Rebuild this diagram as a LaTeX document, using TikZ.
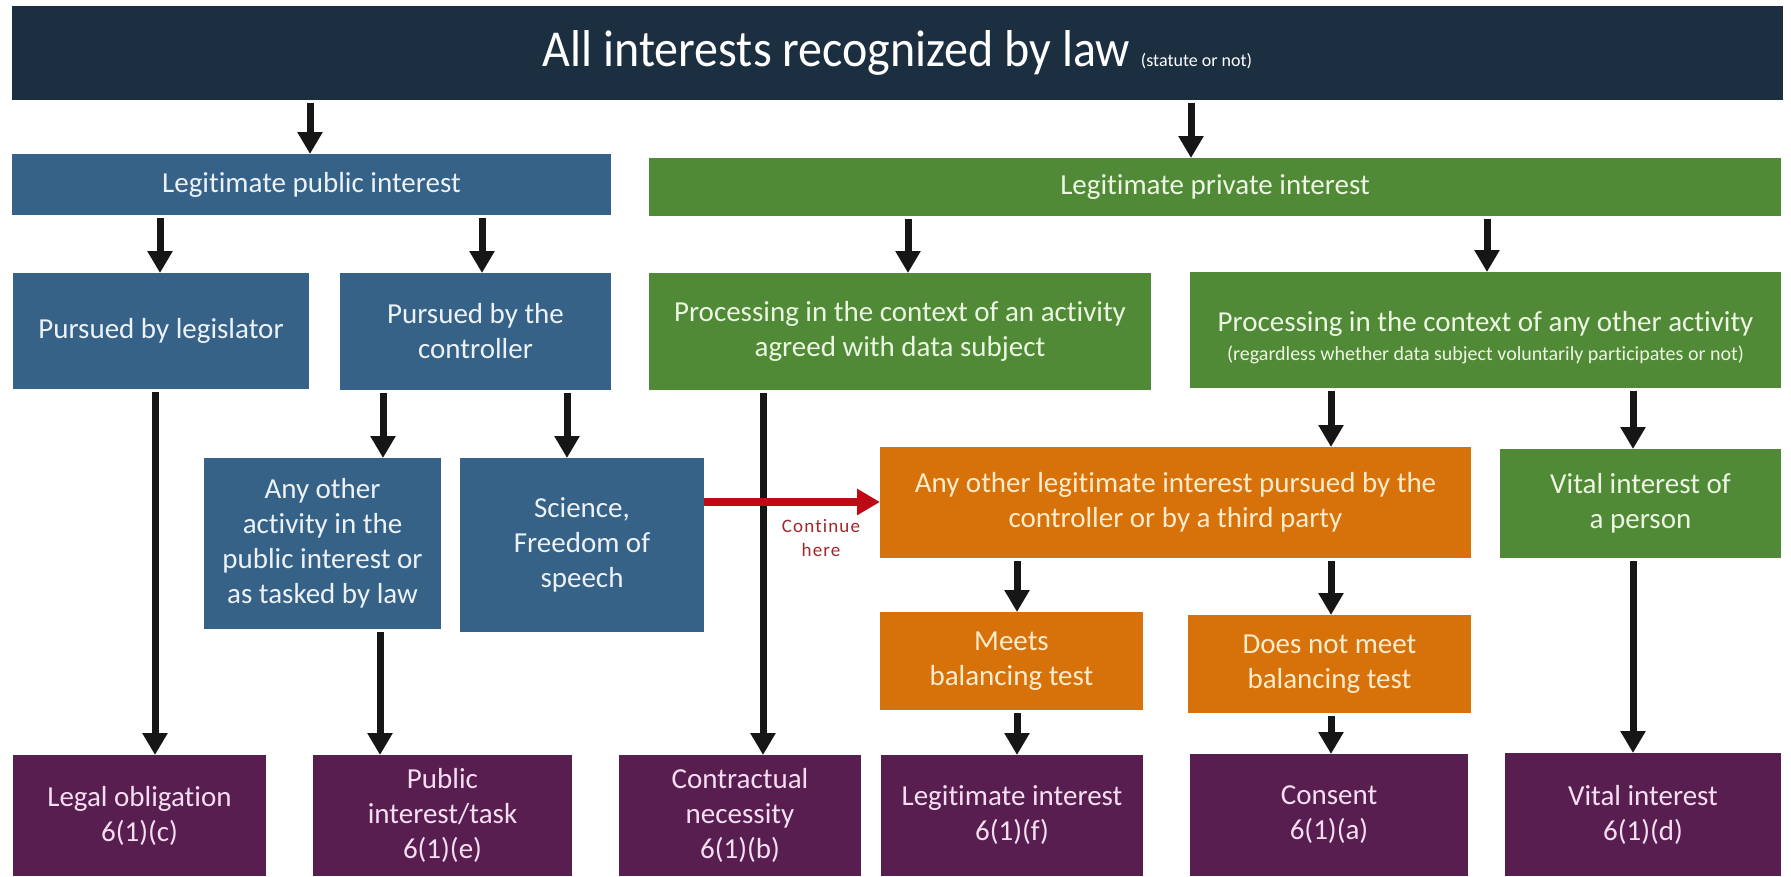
\documentclass[tikz,border=0pt]{standalone}
\usepackage{fontspec}
\setmainfont{Carlito}[Ligatures=CommonOff]
\newfontfamily\contfont{Carlito}[Ligatures=CommonOff,LetterSpace=6]
\usetikzlibrary{arrows.meta,calc}
\definecolor{cnavy}{RGB}{28,47,64}
\definecolor{cblue}{RGB}{53,98,134}
\definecolor{cgreen}{RGB}{80,138,55}
\definecolor{corange}{RGB}{215,113,10}
\definecolor{cpurple}{RGB}{88,30,80}
\definecolor{cred}{RGB}{190,10,20}
\definecolor{cdred}{RGB}{160,40,45}
\definecolor{tblue}{RGB}{236,242,248}
\definecolor{tgreen}{RGB}{236,246,226}
\definecolor{torange}{RGB}{255,236,204}
\definecolor{tpurple}{RGB}{246,222,242}
\definecolor{carrow}{RGB}{22,22,22}
\newcommand\mybox[7]{\node[box,#2,minimum width={(#5)-(#3)},minimum height={(#6)-(#4)}] (#1) at (#3,#4) {#7};}
\begin{document}
\begin{tikzpicture}[x=1pt,y=-1pt,
  box/.style={anchor=north west, inner sep=0pt, outer sep=0pt, align=center, font=\fontsize{29}{35}\selectfont},
  navybox/.style={fill=cnavy, text=white},
  bluebox/.style={fill=cblue, text=tblue},
  greenbox/.style={fill=cgreen, text=tgreen},
  orangebox/.style={fill=corange, text=torange},
  purplebox/.style={fill=cpurple, text=tpurple},
  arr/.style={draw=carrow, line width=7pt, -{Triangle[width=24pt,length=22pt]}, shorten <=3pt},
  redarr/.style={draw=cred, line width=8pt, -{Triangle[width=25pt,length=23pt]}}
]
\path[use as bounding box, fill=white] (0,0) rectangle (1791,876);

% top band
\mybox{top}{navybox}{12}{6}{1783}{100}{\fontsize{48}{56}\selectfont\scalebox{1}[1.08]{All interests recognized by law} \fontsize{18}{20}\selectfont(statute or not)}

% level 1
\mybox{pub}{bluebox}{12}{154}{611}{215}{Legitimate public interest}
\mybox{priv}{greenbox}{649}{158}{1781}{216}{Legitimate private interest}

% level 2
\mybox{leg}{bluebox}{13}{273}{309}{389}{Pursued by legislator}
\mybox{ctrl}{bluebox}{340}{273}{611}{390}{Pursued by the\\controller}
\mybox{agreed}{greenbox}{649}{273}{1151}{390}{Processing in the context of an activity\\agreed with data subject}
\mybox{other}{greenbox}{1190}{272}{1781}{388}{\rule{0pt}{36pt}Processing in the context of any other activity\\[-6pt]{\fontsize{20}{24}\selectfont (regardless whether data subject voluntarily participates or not)}}

% level 3
\mybox{anyother}{bluebox}{204}{458}{441}{629}{Any other\\activity in the\\public interest or\\as tasked by law}
\mybox{science}{bluebox}{460}{458}{704}{632}{Science,\\Freedom of\\speech}
\mybox{legit}{orangebox}{880}{447}{1471}{558}{Any other legitimate interest pursued by the\\controller or by a third party}
\mybox{vitalp}{greenbox}{1500}{449}{1781}{558}{Vital interest of\\a person}

% level 4
\mybox{meets}{orangebox}{880}{612}{1143}{710}{Meets\\balancing test}
\mybox{doesnot}{orangebox}{1188}{615}{1471}{713}{Does not meet\\balancing test}

% bottom row
\mybox{legal}{purplebox}{13}{755}{266}{876}{Legal obligation\\6(1)(c)}
\mybox{public}{purplebox}{313}{755}{572}{876}{Public\\interest/task\\6(1)(e)}
\mybox{contract}{purplebox}{619}{755}{861}{876}{Contractual\\necessity\\6(1)(b)}
\mybox{legint}{purplebox}{881}{755}{1143}{876}{Legitimate interest\\6(1)(f)}
\mybox{consent}{purplebox}{1190}{754}{1468}{876}{Consent\\6(1)(a)}
\mybox{vital}{purplebox}{1505}{753}{1781}{876}{Vital interest\\6(1)(d)}

% arrow columns
\coordinate (c1) at (310,0);
\coordinate (c2) at (1191,0);
\coordinate (c3) at (160,0);
\coordinate (c4) at (482,0);
\coordinate (c5) at (908,0);
\coordinate (c6) at (1487,0);
\coordinate (c7) at (155,0);
\coordinate (c8) at (383,0);
\coordinate (c9) at (567,0);
\coordinate (c10) at (763,0);
\coordinate (c11) at (1331,0);
\coordinate (c12) at (1633,0);
\coordinate (c13) at (1017,0);
\coordinate (c15) at (380,0);
\coordinate (r1) at (0,502);

\draw[arr] (top.south -| c1) -- (pub.north -| c1);
\draw[arr] (top.south -| c2) -- (priv.north -| c2);
\draw[arr] (pub.south -| c3) -- (leg.north -| c3);
\draw[arr] (pub.south -| c4) -- (ctrl.north -| c4);
\draw[arr] (priv.south -| c5) -- (agreed.north -| c5);
\draw[arr] (priv.south -| c6) -- (other.north -| c6);
\draw[arr] (leg.south -| c7) -- (legal.north -| c7);
\draw[arr] (ctrl.south -| c8) -- (anyother.north -| c8);
\draw[arr] (ctrl.south -| c9) -- (science.north -| c9);
\draw[arr] (agreed.south -| c10) -- (contract.north -| c10);
\draw[arr] (other.south -| c11) -- (legit.north -| c11);
\draw[arr] (other.south -| c12) -- (vitalp.north -| c12);
\draw[arr] (legit.south -| c13) -- (meets.north -| c13);
\draw[arr] (legit.south -| c11) -- (doesnot.north -| c11);
\draw[arr] (anyother.south -| c15) -- (public.north -| c15);
\draw[arr] (meets.south -| c13) -- (legint.north -| c13);
\draw[arr] (doesnot.south -| c11) -- (consent.north -| c11);
\draw[arr] (vitalp.south -| c12) -- (vital.north -| c12);

\draw[redarr] (science.east |- r1) -- (legit.west |- r1);
\node[text=cdred, align=center, font=\contfont\fontsize{19}{24}\selectfont] (cont) at (821,538) {Continue\\here};
\end{tikzpicture}
\end{document}
